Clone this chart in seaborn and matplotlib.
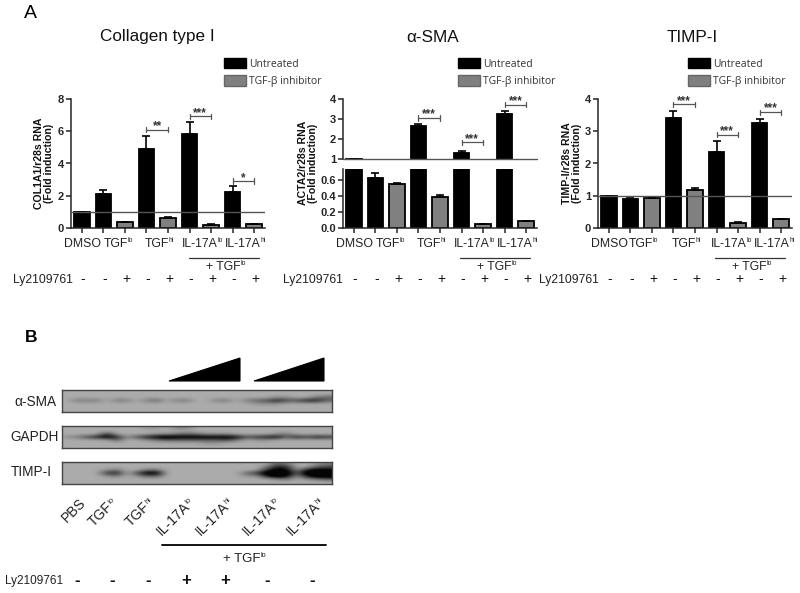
#!/usr/bin/env python3
# Fibrosis marker RNA bars (panel A) and western blot (panel B)

import numpy as np
import pandas as pd
import matplotlib
matplotlib.use("Agg")
import matplotlib.pyplot as plt
import matplotlib.transforms as mtrans
from matplotlib.patches import Patch, Polygon
import seaborn as sns

W, H = 800, 593

conditions = ["DMSO", "TGFlo", "TGFlo+Ly", "TGFhi", "TGFhi+Ly",
              "IL17lo", "IL17lo+Ly", "IL17hi", "IL17hi+Ly"]
treatment = ["Untreated", "Untreated", "TGF-β inhibitor", "Untreated", "TGF-β inhibitor",
             "Untreated", "TGF-β inhibitor", "Untreated", "TGF-β inhibitor"]
ly_signs = ["-", "-", "+", "-", "+", "-", "+", "-", "+"]

col1a1_vals = [1.0, 2.1, 0.35, 4.93, 0.65, 5.8, 0.2, 2.25, 0.22]
col1a1_errs = [0.0, 0.28, 0.02, 0.77, 0.03, 0.75, 0.02, 0.35, 0.02]
col1a1_sig = [(3, 4, 6.1, "**"), (5, 6, 6.93, "***"), (7, 8, 2.9, "*")]

acta2_vals = [1.02, 0.63, 0.55, 2.65, 0.39, 1.28, 0.05, 3.23, 0.09]
acta2_errs = [0.0, 0.06, 0.02, 0.12, 0.02, 0.14, 0.005, 0.17, 0.003]
acta2_sig = [(3, 4, 3.05, "***"), (5, 6, 1.83, "***"), (7, 8, 3.72, "***")]

timp_vals = [1.0, 0.9, 0.93, 3.4, 1.17, 2.35, 0.17, 3.25, 0.27]
timp_errs = [0.0, 0.03, 0.04, 0.22, 0.06, 0.35, 0.01, 0.13, 0.01]
timp_sig = [(3, 4, 3.83, "***"), (5, 6, 2.89, "***"), (7, 8, 3.59, "***")]

group_labels = [("DMSO", ""), ("TGF", "lo"), ("TGF", "hi"), ("IL-17A", "lo"), ("IL-17A", "hi")]
blot_labels = [("PBS", ""), ("TGF", "lo"), ("TGF", "hi"), ("IL-17A", "lo"), ("IL-17A", "hi"),
               ("IL-17A", "lo"), ("IL-17A", "hi")]
blot_signs = ["-", "-", "-", "+", "+", "-", "-"]

sma_blot = ["000000000000000000000000000",
            "000000000000000000000000000",
            "000000000000000000000110023",
            "022202202302200220234644663",
            "000000000000000000011100000",
            "000000000000000000000000000",
            "000000000000000000000000000"]
gapdh_blot = ["000000001102200000000000000",
              "000000000000000000000000000",
              "000050000112321110000120000",
              "124686146898888887456736465",
              "000003001233333342011000000",
              "000000000000001100000000000",
              "000000000000000000000000000"]
timp_blot = ["000000000000000000000320012",
             "000000000000000000002650034",
             "000012002200000000005871687",
             "000056048800000000359993999",
             "000012013300000000116971699",
             "000000000000000000000120123",
             "000000000000000000000000000"]

sns.set_theme(style="ticks")
plt.rcParams["font.family"] = ["Liberation Sans", "DejaVu Sans"]
plt.rcParams["axes.linewidth"] = 1.1

palette = {"Untreated": "black", "TGF-β inhibitor": "#808080"}
LINE = "#555555"
TEXT = "#222222"

fig = plt.figure(figsize=(W / 100, H / 100), dpi=100, facecolor="white")
page = fig.add_axes([0, 0, 1, 1], zorder=5)
page.set_xlim(0, W)
page.set_ylim(H, 0)
page.axis("off")
page.patch.set_alpha(0)
renderer = fig.canvas.get_renderer()


def px_axes(left, top, right, bottom):
    return fig.add_axes([left / W, 1 - bottom / H, (right - left) / W, (bottom - top) / H])


def text_width(s, size):
    t = page.text(0, 0, s, fontsize=size)
    w = t.get_window_extent(renderer).width
    t.remove()
    return w


def sup_label(x, y, base, sup, size, anchor="center", rotation=0):
    # base text plus a very small superscript, mathtext draws it too big
    sup_size = size * 0.55
    w1 = text_width(base, size)
    w2 = text_width(sup, sup_size) if sup else 0
    start = -(w1 + w2) / 2 if anchor == "center" else -(w1 + w2)
    c, s = np.cos(np.radians(rotation)), np.sin(np.radians(rotation))
    bx, by = x + start * c, y - start * s
    page.text(bx, by, base, fontsize=size, color=TEXT, rotation=rotation, rotation_mode="anchor",
              ha="left", va="baseline")
    if sup:
        rise = size * 100 / 72 * 0.38
        page.text(bx + w1 * c - rise * s, by - w1 * s - rise * c, sup, fontsize=sup_size, color=TEXT,
                  rotation=rotation, rotation_mode="anchor", ha="left", va="baseline")


def bars(ax, vals, errs):
    df = pd.DataFrame({"cond": conditions, "val": vals, "treat": treatment})
    sns.barplot(data=df, x="cond", y="val", hue="treat", order=conditions, palette=palette,
                dodge=False, width=0.72, errorbar=None, legend=False, ax=ax,
                edgecolor="black", linewidth=1.3)
    ax.errorbar(range(len(vals)), vals, yerr=[np.zeros(len(errs)), errs], fmt="none",
                ecolor="black", elinewidth=1.2, capsize=3.2, capthick=1.2)
    ax.set_xlim(-0.5, 8.5)
    ax.set_xlabel("")
    ax.set_ylabel("")
    sns.despine(ax=ax)
    ax.tick_params(axis="y", length=3.5, width=1.1, pad=1.5, labelsize=8)
    for t in ax.get_yticklabels():
        t.set_fontweight("bold")


def brackets(ax, sig, cap):
    for a, b, y, stars in sig:
        ax.plot([a, b], [y, y], color=LINE, lw=0.9)
        ax.plot([a, a], [y - cap, y + cap], color=LINE, lw=0.9)
        ax.plot([b, b], [y - cap, y + cap], color=LINE, lw=0.9)
        ax.text((a + b) / 2, y - cap * 0.9, stars, ha="center", va="bottom", fontsize=8.5,
                fontweight="bold", color="#333333")


def under_labels(ax, label_x, name_x, line_right):
    tr = mtrans.blended_transform_factory(ax.transData, page.transData)
    ax.set_xticks(range(9))
    ax.set_xticklabels([])
    ax.tick_params(axis="x", length=3.5, width=1.1)
    to_page = page.transData.inverted()
    for pos, (base, sup) in zip(label_x, group_labels):
        x = to_page.transform(ax.transData.transform((pos, 0)))[0]
        sup_label(x, 247, base, sup, 8.8)
    for i, s in enumerate(ly_signs):
        ax.text(i + 0.06, 279, s, transform=tr, ha="center", va="center", fontsize=10, color="#111111")
    page.text(name_x, 280, "Ly2109761", ha="left", va="center", fontsize=8.8, color=TEXT)
    page.plot([line_right - 70, line_right], [258, 258], color="#333333", lw=0.9)
    sup_label(line_right - 33, 270, "+ TGF", "lo", 8.8)


def legend(ax, x):
    handles = [Patch(facecolor="black", edgecolor="black"),
               Patch(facecolor="#808080", edgecolor="#666666")]
    leg = ax.legend(handles, ["Untreated", "TGF-β inhibitor"], loc="upper left",
                    bbox_to_anchor=(x / W, 1 - 58 / H), bbox_transform=fig.transFigure,
                    frameon=False, borderpad=0, borderaxespad=0, handlelength=2.1,
                    handleheight=1.15, handletextpad=0.3, labelspacing=0.55,
                    prop={"family": "Open Sans", "size": 7.5})
    for t in leg.get_texts():
        t.set_color("#333333")


# Collagen
ax1 = px_axes(71, 99, 265, 228)
bars(ax1, col1a1_vals, col1a1_errs)
ax1.set_ylim(0, 8)
ax1.set_yticks([0, 2, 4, 6, 8])
ax1.axhline(1, color=LINE, lw=1.0, zorder=6)
brackets(ax1, col1a1_sig, 0.17)
under_labels(ax1, [0.05, 1.7, 3.6, 5.6, 7.6], 13, 259)
legend(ax1, 224)

# a-SMA, broken axis
ax2 = px_axes(343, 99, 537, 159)
bars(ax2, acta2_vals, acta2_errs)
ax2.set_ylim(1, 4)
ax2.set_yticks([1, 2, 3, 4])
ax2.spines["bottom"].set_visible(False)
ax2.set_xticks([])
ax2.axhline(1, color=LINE, lw=1.0, zorder=6, clip_on=False)
brackets(ax2, acta2_sig, 0.13)
legend(ax2, 458)

ax2b = px_axes(343, 169, 537, 228)
bars(ax2b, acta2_vals, acta2_errs)
ax2b.set_ylim(0, 0.74)
ax2b.set_yticks([0, 0.2, 0.4, 0.6])
ax2b.set_yticklabels(["0.0", "0.2", "0.4", "0.6"], fontweight="bold")
under_labels(ax2b, [0.05, 1.7, 3.6, 5.6, 7.6], 283, 530)

# TIMP-I
ax3 = px_axes(598, 99, 792, 228)
bars(ax3, timp_vals, timp_errs)
ax3.set_ylim(0, 4)
ax3.set_yticks([0, 1, 2, 3, 4])
ax3.axhline(1, color=LINE, lw=1.0, zorder=6)
brackets(ax3, timp_sig, 0.08)
under_labels(ax3, [0.05, 1.6, 3.6, 5.7, 7.7], 539, 785)
legend(ax3, 688)

# titles and axis names
for x, y, s in [(157, 37, "Collagen type I"), (433, 38, "α-SMA"), (692, 38, "TIMP-I")]:
    page.text(x, y, s, ha="center", va="center", fontsize=12.3, color="#111111")
for x, s in [(44, "COL1A1/r28s RNA\n(Fold induction)"), (308, "ACTA2/r28s RNA\n(Fold induction)"),
             (572, "TIMP-I/r28s RNA\n(Fold induction)")]:
    page.text(x, 163, s, rotation=90, ha="center", va="center", fontsize=7.6, fontweight="bold",
              linespacing=1.05, color="#111111")
page.text(30, 14, "A", ha="center", va="center", fontsize=14, color="black")
page.text(31, 338, "B", ha="center", va="center", fontsize=12.5, fontweight="bold", color="black")

# western blot strips, vmax below 9 so the strong bands go properly black
film = sns.blend_palette(["#ababab", "#050505"], as_cmap=True)
for rows, top, bottom in [(sma_blot, 390, 412), (gapdh_blot, 426, 448), (timp_blot, 462, 484)]:
    ax = px_axes(62, top, 332, bottom)
    ax.imshow([[int(c) for c in r] for r in rows], cmap=film, vmin=0, vmax=7, aspect="auto",
              interpolation="bicubic")
    ax.set_xticks([])
    ax.set_yticks([])
    for sp in ax.spines.values():
        sp.set_color("#444444")
        sp.set_linewidth(1.0)

for y, s, x in [(402, "α-SMA", 35), (437, "GAPDH", 35), (472, "TIMP-I", 31)]:
    page.text(x, y, s, ha="center", va="center", fontsize=9.8, color=TEXT)

for x0, x1 in [(169, 240), (254, 324)]:
    page.add_patch(Polygon([(x0, 381), (x1, 358), (x1, 381)], closed=True, facecolor="black",
                           edgecolor="black", lw=0.8))

blot_label_x = [86, 118, 155, 195, 234, 281, 325]
for x, (base, sup) in zip(blot_label_x, blot_labels):
    sup_label(x, 503, base, sup, 10, anchor="right", rotation=45)
page.plot([162, 326], [545, 545], color="black", lw=1.3)
sup_label(245, 562, "+ TGF", "lo", 9.5)
page.text(5, 581, "Ly2109761", ha="left", va="center", fontsize=8.5, color=TEXT)
blot_sign_x = [77, 112, 148, 186, 225, 267, 312]
for x, s in zip(blot_sign_x, blot_signs):
    page.text(x, 580, s, ha="center", va="center", fontsize=12, fontweight="bold", color="#111111")

fig.savefig("out.png", dpi=100)
